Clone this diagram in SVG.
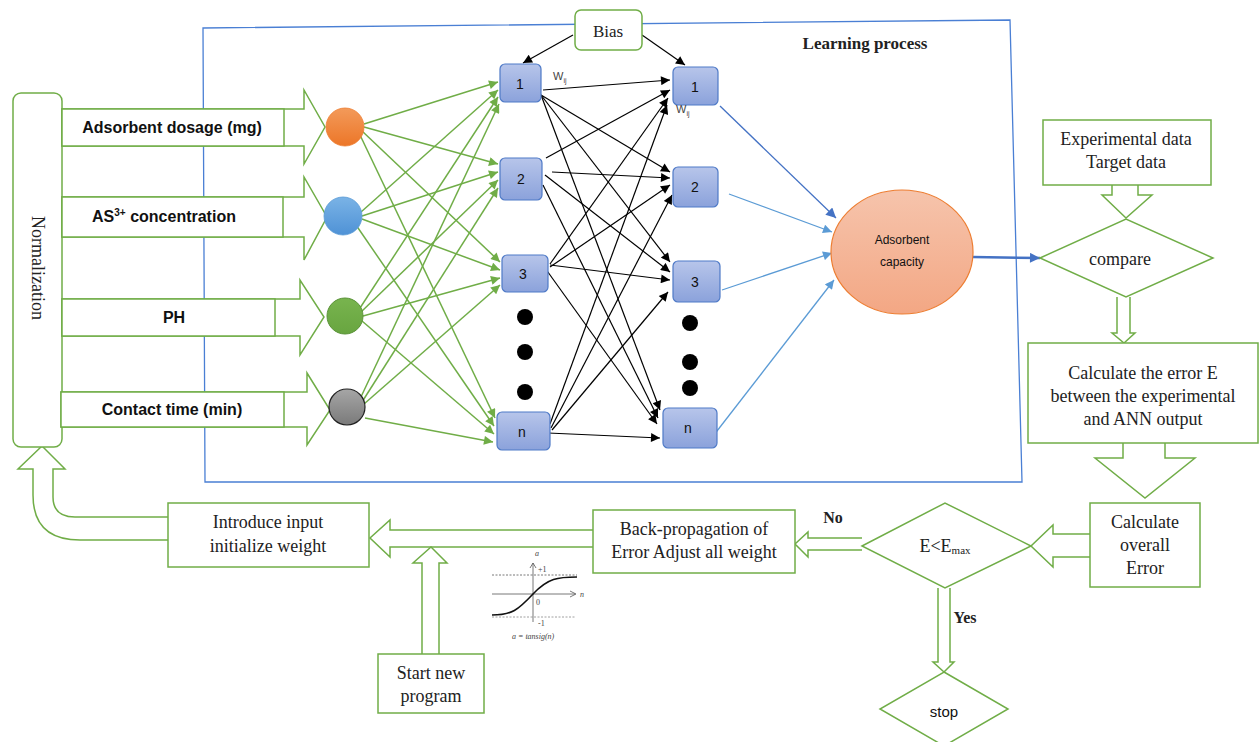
<svg xmlns="http://www.w3.org/2000/svg" width="1260" height="742" viewBox="0 0 1260 742">
<defs>
<style>
.g{fill:#fff;stroke:#70ad47;stroke-width:1.5}
.gl{stroke:#70ad47;stroke-width:1.5;fill:none}
.bl{stroke:#000;stroke-width:1.2;fill:none}
.bu{stroke:#5b9bd5;stroke-width:1.3;fill:none}
.hn{fill:url(#hg);stroke:#4f7ac7;stroke-width:1.2}
.ser{font-family:"Liberation Serif","Times New Roman",serif;font-size:18px;fill:#222;text-anchor:middle}
.sb{font-family:"Liberation Sans",Arial,sans-serif;font-size:16px;font-weight:bold;fill:#111;text-anchor:middle}
.sn{font-family:"Liberation Sans",Arial,sans-serif;font-size:14px;fill:#111;text-anchor:middle}
</style>
<linearGradient id="hg" x1="0" y1="0" x2="0" y2="1"><stop offset="0" stop-color="#b7c5ea"/><stop offset="1" stop-color="#8ba2db"/></linearGradient>
<linearGradient id="og" x1="0" y1="0" x2="0" y2="1"><stop offset="0" stop-color="#f39a5a"/><stop offset="1" stop-color="#ec7628"/></linearGradient>
<linearGradient id="bg" x1="0" y1="0" x2="0" y2="1"><stop offset="0" stop-color="#7ab3e6"/><stop offset="1" stop-color="#4f92d6"/></linearGradient>
<linearGradient id="gg" x1="0" y1="0" x2="0" y2="1"><stop offset="0" stop-color="#78b44e"/><stop offset="1" stop-color="#68a540"/></linearGradient>
<linearGradient id="yg" x1="0" y1="0" x2="0" y2="1"><stop offset="0" stop-color="#a6a6a6"/><stop offset="1" stop-color="#7a7a7a"/></linearGradient>
<linearGradient id="eg" x1="0" y1="0" x2="0" y2="1"><stop offset="0" stop-color="#f6c4ac"/><stop offset="1" stop-color="#f3a784"/></linearGradient>
<marker id="ma" viewBox="0 0 10 10" refX="10" refY="5" markerWidth="11" markerHeight="9" markerUnits="userSpaceOnUse" orient="auto"><path d="M0,0 L10,5 L0,10 Z" fill="#000"/></marker>
<marker id="mg" viewBox="0 0 10 10" refX="10" refY="5" markerWidth="11" markerHeight="9" markerUnits="userSpaceOnUse" orient="auto"><path d="M0,0 L10,5 L0,10 Z" fill="#70ad47"/></marker>
<marker id="mb" viewBox="0 0 10 10" refX="10" refY="5" markerWidth="11" markerHeight="9" markerUnits="userSpaceOnUse" orient="auto"><path d="M0,0 L10,5 L0,10 Z" fill="#5b9bd5"/></marker>
<marker id="md" viewBox="0 0 10 10" refX="10" refY="5" markerWidth="12" markerHeight="10" markerUnits="userSpaceOnUse" orient="auto"><path d="M0,0 L10,5 L0,10 Z" fill="#4472c4"/></marker>
</defs>
<rect width="1260" height="742" fill="#fff"/>

<g id="learning-box">
<polygon points="203,28 1010,20 1022,482 205,482" fill="none" stroke="#4a7fd4" stroke-width="1.3"/>
<text x="865" y="49" class="ser" style="font-weight:bold;font-size:17px">Learning process</text>
</g>

<g id="connectors">
<g class="gl" marker-end="url(#mg)">
<line x1="364" y1="124" x2="498" y2="82"/>
<line x1="364" y1="127" x2="498" y2="164"/>
<line x1="362" y1="131" x2="500" y2="262"/>
<line x1="360" y1="135" x2="495" y2="418"/>
<line x1="361" y1="212" x2="498" y2="90"/>
<line x1="362" y1="216" x2="498" y2="172"/>
<line x1="362" y1="219" x2="500" y2="270"/>
<line x1="356" y1="225" x2="494" y2="426"/>
<line x1="360" y1="308" x2="498" y2="97"/>
<line x1="361" y1="312" x2="498" y2="180"/>
<line x1="363" y1="316" x2="500" y2="278"/>
<line x1="362" y1="321" x2="494" y2="434"/>
<line x1="360" y1="399" x2="499" y2="104"/>
<line x1="362" y1="402" x2="498" y2="188"/>
<line x1="364" y1="404" x2="500" y2="285"/>
<line x1="365" y1="418" x2="493" y2="442"/>
</g>
<g class="bl" marker-end="url(#ma)">
<line x1="543" y1="90" x2="670" y2="80"/>
<line x1="541" y1="95" x2="670" y2="172"/>
<line x1="541" y1="95" x2="670" y2="262"/>
<line x1="541" y1="95" x2="660" y2="410"/>
<line x1="546" y1="158" x2="670" y2="90"/>
<line x1="552" y1="172" x2="670" y2="178"/>
<line x1="545" y1="175" x2="670" y2="272"/>
<line x1="543" y1="185" x2="658" y2="418"/>
<line x1="550" y1="264" x2="668" y2="98"/>
<line x1="550" y1="267" x2="670" y2="185"/>
<line x1="550" y1="265" x2="670" y2="280"/>
<line x1="545" y1="268" x2="657" y2="424"/>
<line x1="550" y1="424" x2="667" y2="105"/>
<line x1="551" y1="428" x2="672" y2="195"/>
<line x1="552" y1="430" x2="668" y2="292"/>
<line x1="548" y1="433" x2="660" y2="438"/>
<line x1="573" y1="35" x2="523" y2="63"/>
<line x1="642" y1="35" x2="685" y2="65"/>
</g>
<line x1="720" y1="106" x2="836" y2="218" stroke="#4472c4" stroke-width="1.3" marker-end="url(#md)"/>
<g class="bu" marker-end="url(#mb)">
<line x1="729" y1="194" x2="832" y2="232"/>
<line x1="722" y1="290" x2="832" y2="253"/>
<line x1="710" y1="440" x2="834" y2="280"/>
</g>
<line x1="973" y1="257" x2="1040" y2="258" stroke="#4472c4" stroke-width="2.5" marker-end="url(#md)"/>
<path class="g" d="M1112,185 V195 H1102 L1126,218 L1152,195 H1138 V185"/>
<path class="g" d="M1117,297 V333 H1112 L1124,343 L1135,333 H1130 V297"/>
<path class="g" d="M1123,443 V458 H1095 L1145,498 L1195,458 H1165 V443"/>
<path class="g" d="M1090,534 H1053 V525 L1031,546 L1053,567 V557 H1090"/>
<path class="g" d="M862,538 H808 V532 L795,544 L808,557 V550 H862"/>
<path class="g" d="M938,588 V662 H933 L944,672 L954,662 H950 V588"/>
<path class="g" d="M593,530 H390 V520 L370,538 L390,557 V547 H593"/>
<path class="g" d="M422,654 V563 H413 L431,547 L447,563 H439 V654"/>
<path class="g" d="M168,540 H80 Q33,540 33,495 V469 H18 L42,446 L65,469 H53 V497 Q53,517 75,517 H168"/>
</g>

<g id="bias">
<rect x="575" y="10" width="67" height="40" rx="6" class="g"/>
<text x="608" y="37" class="ser" style="font-size:17px">Bias</text>
</g>

<g id="normalization">
<rect x="13" y="93" width="49" height="354" rx="8" class="g"/>
<text transform="translate(32,268) rotate(90)" class="ser" y="0">Normalization</text>
</g>

<g id="input-dosage">
<path class="g" d="M62,109 H304 V90 L325,127 L304,164 V146 H62 Z"/>
<rect x="62" y="109" width="222" height="37" class="g"/>
<text x="172" y="133" class="sb">Adsorbent dosage (mg)</text>
</g>
<g id="input-as">
<path class="g" d="M62,197 H304 V177 L327,217 L304,260 V237 H62 Z"/>
<rect x="62" y="197" width="221" height="40" class="g"/>
<text x="164" y="222" class="sb">AS<tspan dy="-6" font-size="10">3+</tspan><tspan dy="6"> concentration</tspan></text>
</g>
<g id="input-ph">
<path class="g" d="M62,299 H300 V280 L324,317 L300,355 V336 H62 Z"/>
<rect x="62" y="299" width="213" height="37" class="g"/>
<text x="174" y="323" class="sb">PH</text>
</g>
<g id="input-time">
<path class="g" d="M61,392 H307 V373 L330,410 L307,445 V427 H61 Z"/>
<rect x="61" y="392" width="223" height="35" class="g"/>
<text x="172" y="415" class="sb">Contact time (min)</text>
</g>

<g id="input-neurons">
<circle cx="345" cy="127" r="19" fill="url(#og)" stroke="#ed7d31" stroke-width="0.8"/>
<circle cx="343" cy="216" r="19" fill="url(#bg)" stroke="#5b9bd5" stroke-width="0.8"/>
<circle cx="345" cy="316" r="18" fill="url(#gg)" stroke="#5a9338" stroke-width="1"/>
<circle cx="347" cy="407" r="18" fill="url(#yg)" stroke="#222" stroke-width="1.2"/>
</g>

<g id="hidden-layer">
<rect x="500" y="64" width="41" height="38" rx="5" class="hn"/><text x="520" y="89" class="sn">1</text>
<rect x="500" y="158" width="42" height="42" rx="5" class="hn"/><text x="521" y="184" class="sn">2</text>
<rect x="502" y="255" width="46" height="37" rx="5" class="hn"/><text x="523" y="279" class="sn">3</text>
<rect x="497" y="412" width="53" height="38" rx="5" class="hn"/><text x="522" y="437" class="sn">n</text>
<circle cx="525" cy="317" r="8"/><circle cx="525" cy="352" r="8"/><circle cx="525" cy="392" r="8"/>
</g>

<g id="output-layer">
<rect x="673" y="67" width="45" height="38" rx="5" class="hn"/><text x="695" y="92" class="sn">1</text>
<rect x="673" y="167" width="45" height="40" rx="5" class="hn"/><text x="695" y="192" class="sn">2</text>
<rect x="673" y="261" width="47" height="41" rx="5" class="hn"/><text x="695" y="287" class="sn">3</text>
<rect x="663" y="408" width="54" height="40" rx="5" class="hn"/><text x="688" y="433" class="sn">n</text>
<circle cx="690" cy="323" r="8"/><circle cx="690" cy="362" r="8"/><circle cx="690" cy="388" r="8"/>
</g>

<g id="weights">
<text x="553" y="80" font-family="Liberation Sans,Arial,sans-serif" font-size="11" fill="#444">W<tspan font-size="7" dy="3">ij</tspan></text>
<text x="676" y="113" font-family="Liberation Sans,Arial,sans-serif" font-size="11" fill="#444">W<tspan font-size="7" dy="3">ij</tspan></text>
</g>

<g id="adsorbent-capacity">
<ellipse cx="902" cy="252" rx="71" ry="62" fill="url(#eg)" stroke="#ed7d31" stroke-width="1.2"/>
<text x="902" y="244" class="sn" style="font-size:12px">Adsorbent</text>
<text x="902" y="266" class="sn" style="font-size:12px">capacity</text>
</g>

<g id="experimental-data">
<rect x="1043" y="120" width="168" height="65" class="g"/>
<text x="1126" y="145" class="ser">Experimental data</text>
<text x="1126" y="168" class="ser">Target data</text>
</g>

<g id="compare">
<polygon points="1040,258 1126,219 1213,258 1126,297" class="g"/>
<text x="1120" y="265" class="ser">compare</text>
</g>

<g id="calc-error">
<rect x="1028" y="343" width="230" height="100" class="g"/>
<text x="1143" y="379" class="ser">Calculate the error E</text>
<text x="1143" y="402" class="ser">between the experimental</text>
<text x="1143" y="425" class="ser">and ANN output</text>
</g>

<g id="calc-overall">
<rect x="1090" y="503" width="110" height="84" class="g"/>
<text x="1145" y="528" class="ser">Calculate</text>
<text x="1145" y="551" class="ser">overall</text>
<text x="1145" y="574" class="ser">Error</text>
</g>

<g id="e-emax">
<polygon points="862,546 945,503 1031,546 945,588" class="g"/>
<text x="945" y="552" class="ser">E&lt;E<tspan font-size="11" dy="2">max</tspan></text>
<text x="833" y="523" class="ser" style="font-weight:bold;font-size:16px">No</text>
<text x="965" y="623" class="ser" style="font-weight:bold;font-size:16px">Yes</text>
</g>

<g id="stop">
<polygon points="944,672 1008,709 944,746 880,709" class="g"/>
<text x="944" y="717" class="sn" style="font-size:15px">stop</text>
</g>

<g id="back-propagation">
<rect x="593" y="510" width="202" height="63" class="g"/>
<text x="694" y="535" class="ser">Back-propagation of</text>
<text x="694" y="558" class="ser">Error Adjust all weight</text>
</g>

<g id="introduce-input">
<rect x="168" y="503" width="201" height="64" class="g"/>
<text x="268" y="528" class="ser">Introduce input</text>
<text x="268" y="552" class="ser">initialize weight</text>
</g>

<g id="start-new">
<rect x="378" y="654" width="106" height="59" class="g"/>
<text x="431" y="679" class="ser">Start new</text>
<text x="431" y="702" class="ser">program</text>
</g>

<g id="tansig">
<line x1="492" y1="575" x2="577" y2="575" stroke="#555" stroke-width="0.8" stroke-dasharray="2,1.5"/>
<line x1="492" y1="617" x2="575" y2="617" stroke="#888" stroke-width="0.8" stroke-dasharray="2,1.5"/>
<line x1="492" y1="594" x2="575" y2="594" stroke="#555" stroke-width="0.8"/>
<path d="M570,591 L576,594 L570,597" fill="none" stroke="#555" stroke-width="0.8"/>
<line x1="533" y1="563" x2="533" y2="622" stroke="#555" stroke-width="0.8"/>
<path d="M530,568 L533,563 L536,568" fill="none" stroke="#555" stroke-width="0.8"/>
<path d="M492,615 C512,615 518,610 533,594 C548,578 558,577 577,577" fill="none" stroke="#111" stroke-width="1.6"/>
<g font-family="Liberation Serif,serif" font-size="8" fill="#444">
<text x="535" y="556" font-style="italic">a</text>
<text x="538" y="572">+1</text>
<text x="536" y="605">0</text>
<text x="538" y="626">-1</text>
<text x="580" y="597" font-style="italic">n</text>
<text x="512" y="639" font-style="italic">a = tansig(n)</text>
</g>
</g>
</svg>
